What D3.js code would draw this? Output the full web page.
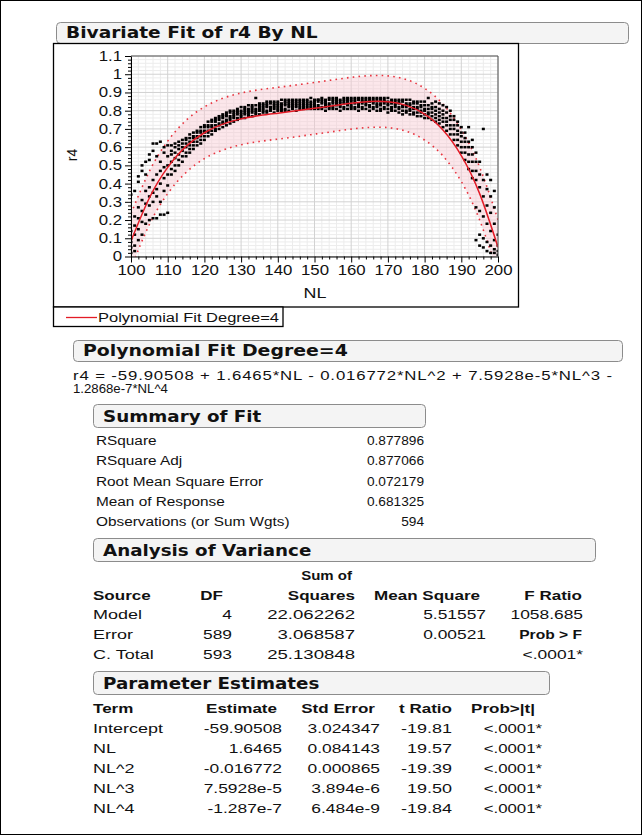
<!DOCTYPE html>
<html><head><meta charset="utf-8">
<script src="https://cdn.jsdelivr.net/npm/d3@7"></script>
<style>
html,body{margin:0;padding:0;background:#fff;}
svg{display:block;}
</style></head><body>
<svg id="c" width="642" height="835"></svg>
<script>
// ---------------- data ----------------
const nlTicks = [100,110,120,130,140,150,160,170,180,190,200];
const r4Ticks = [0,0.1,0.2,0.3,0.4,0.5,0.6,0.7,0.8,0.9,1,1.1];
const r4TickLabels = ["0","0.1","0.2","0.3","0.4","0.5","0.6","0.7","0.8","0.9","1","1.1"];

// fitted polynomial curve and individual confidence limits
const fitNL   = [100,105,110,115,120,125,130,135,140,145,150,155,160,165,170,175,180,185,190,195,200];
const fitR4   = [0.085,0.321,0.489,0.604,0.679,0.726,0.755,0.773,0.786,0.799,0.813,0.827,0.841,0.850,0.849,0.829,0.781,0.694,0.554,0.345,0.051];
const upperR4 = [0.235,0.467,0.633,0.747,0.821,0.868,0.897,0.915,0.928,0.941,0.955,0.969,0.983,0.992,0.991,0.971,0.923,0.836,0.697,0.490,0.201];
const lowerR4 = [-0.065,0.175,0.345,0.461,0.537,0.584,0.613,0.631,0.644,0.657,0.671,0.685,0.699,0.708,0.707,0.687,0.639,0.552,0.411,0.200,-0.099];

// observations: NL value and the r4 readings at that NL
const obsNL = [100,101,102,103,104,105,106,107,108,109,110,111,112,113,114,115,116,117,118,119,120,
  121,122,123,124,125,126,127,128,129,130,131,132,133,134,135,136,137,138,139,140,
  141,142,143,144,145,146,147,148,149,150,151,152,153,154,155,156,157,158,159,160,
  161,162,163,164,165,166,167,168,169,170,171,172,173,174,175,176,177,178,179,180,
  181,182,183,184,185,186,187,188,189,190,191,192,193,194,195,196,197,198,199,200];
const obsR4 = [
 [.02,.05,.10,.14,.34,.08],[.03,.12,.17,.22,.36,.06],[.09,.15,.21,.41,.44,.27],[.12,.19,.25,.31,.47,.50],
 [.18,.23,.29,.36,.52,.45],[.20,.28,.33,.38,.53,.56],[.21,.30,.35,.42,.58,.62],[.21,.33,.37,.45,.55,.62],
 [.23,.30,.40,.47,.52,.63],[.23,.36,.43,.49,.57,.60],[.24,.39,.45,.50,.55,.61],[.45,.48,.52,.56,.58,.61],
 [.47,.50,.54,.57,.60,.62],[.50,.53,.56,.59,.61,.63],[.52,.55,.58,.60,.62,.64],[.55,.57,.60,.62,.64,.65],
 [.57,.59,.61,.63,.65,.67],[.59,.61,.63,.65,.66,.68],[.61,.63,.65,.66,.68,.69],[.62,.64,.66,.68,.69,.71],
 [.64,.66,.68,.69,.71,.72],[.66,.68,.69,.71,.72,.74],[.67,.69,.71,.72,.74,.75],[.69,.70,.72,.74,.75,.76],
 [.70,.72,.73,.75,.76,.77],[.71,.73,.74,.76,.77,.78],[.72,.74,.75,.77,.78,.79],[.73,.75,.76,.77,.79,.80],
 [.74,.76,.77,.78,.79,.80],[.75,.76,.78,.79,.80,.81],[.76,.77,.78,.79,.80,.82],[.76,.78,.79,.80,.81,.82],
 [.77,.78,.79,.80,.81,.83],[.77,.79,.80,.81,.82,.83],[.78,.79,.80,.81,.83,.87],[.78,.80,.81,.82,.83,.84],
 [.79,.80,.81,.82,.83,.84],[.79,.80,.82,.83,.84,.85],[.80,.81,.82,.82,.84,.85],[.79,.81,.82,.83,.84,.85],
 [.80,.81,.82,.83,.84,.85],[.80,.81,.82,.83,.84,.86],[.80,.81,.83,.84,.85,.86],[.80,.82,.83,.84,.85,.86],
 [.81,.82,.83,.84,.85,.86],[.80,.82,.83,.84,.85,.86],[.81,.82,.83,.84,.85,.86],[.81,.82,.83,.84,.85,.86],
 [.81,.82,.83,.84,.85,.86],[.81,.82,.83,.84,.85,.87],[.81,.82,.83,.84,.85,.86],[.81,.82,.83,.85,.86,.86],
 [.81,.82,.84,.85,.86,.87],[.80,.82,.83,.84,.85,.86],[.81,.82,.83,.84,.86,.87],[.81,.82,.84,.85,.86,.87],
 [.81,.83,.84,.85,.86,.87],[.80,.82,.83,.84,.85,.86],[.81,.82,.84,.85,.86,.87],[.81,.83,.84,.85,.86,.87],
 [.81,.82,.83,.85,.86,.87],[.81,.82,.84,.85,.86,.87],[.80,.82,.83,.84,.86,.87],[.81,.82,.84,.85,.86,.87],
 [.81,.83,.84,.85,.86,.87],[.80,.82,.83,.85,.86,.87],[.81,.82,.84,.85,.86,.87],[.80,.82,.83,.84,.86,.87],
 [.80,.81,.83,.84,.86,.87],[.81,.82,.84,.85,.86,.87],[.79,.81,.83,.84,.85,.87],[.80,.81,.82,.84,.85,.86],
 [.80,.82,.83,.84,.85,.86],[.79,.81,.82,.84,.85,.86],[.78,.80,.82,.83,.85,.86],[.79,.80,.82,.83,.84,.86],
 [.78,.80,.81,.83,.84,.86],[.78,.79,.81,.82,.84,.85],[.77,.79,.81,.82,.84,.85],[.77,.79,.80,.82,.83,.85],
 [.76,.78,.80,.81,.83,.85],[.76,.78,.79,.81,.83,.87],[.75,.77,.79,.81,.82,.84],[.74,.76,.78,.80,.82,.85],
 [.73,.75,.77,.79,.81,.84],[.71,.74,.76,.78,.80,.83],[.69,.72,.74,.76,.79,.82],[.67,.70,.72,.75,.77,.80],
 [.64,.67,.70,.72,.75,.77],[.61,.64,.67,.69,.72,.74],[.57,.60,.63,.66,.68,.71],[.53,.57,.60,.63,.65,.68],
 [.48,.52,.56,.60,.63,.71],[.43,.47,.52,.56,.60,.64],[.09,.27,.42,.47,.52,.57],[.06,.12,.25,.38,.45,.52],
 [.05,.10,.22,.33,.42,.70],[.03,.08,.18,.28,.37,.45],[.02,.06,.14,.24,.33,.42],[.02,.04,.09,.18,.27,.36],
 [.01,.03,.06,.12]
];

const equationLines = ["r4 = -59.90508 + 1.6465*NL - 0.016772*NL^2 + 7.5928e-5*NL^3 -", "1.2868e-7*NL^4"];

const summaryLabels = ["RSquare","RSquare Adj","Root Mean Square Error","Mean of Response","Observations (or Sum Wgts)"];
const summaryValues = ["0.877896","0.877066","0.072179","0.681325","594"];

const anovaSource = ["Model","Error","C. Total"];
const anovaDF     = ["4","589","593"];
const anovaSS     = ["22.062262","3.068587","25.130848"];
const anovaMS     = ["5.51557","0.00521",""];
const anovaF      = ["1058.685","Prob > F","<.0001*"];

const paramTerms  = ["Intercept","NL","NL^2","NL^3","NL^4"];
const paramEst    = ["-59.90508","1.6465","-0.016772","7.5928e-5","-1.287e-7"];
const paramSE     = ["3.024347","0.084143","0.000865","3.894e-6","6.484e-9"];
const paramT      = ["-19.81","19.57","-19.39","19.50","-19.84"];
const paramP      = ["<.0001*","<.0001*","<.0001*","<.0001*","<.0001*"];

// ---------------- drawing ----------------
const svg = d3.select("#c");
const BODY = "'Liberation Sans', Arial, sans-serif";
const HEAD = "'DejaVu Sans', sans-serif";
const SX = 1.2;   // horizontal stretch of the upper texts
const WX = 1.45;  // horizontal stretch of the lower tables

function txt(x, y, s, o = {}) {
  const sx = o.sx ?? SX;
  const t = svg.append("text")
    .attr("transform", `translate(${x},${y}) scale(${sx},1)`)
    .attr("text-anchor", o.anchor || "start")
    .style("font-family", o.family || BODY)
    .style("font-size", (o.size || 12) + "px")
    .style("font-weight", o.bold ? "bold" : "normal")
    .style("fill", o.fill || "#111")
    .text(s);
  if (o.len) t.attr("textLength", o.len).attr("lengthAdjust", o.adjust || "spacingAndGlyphs");
  return t;
}
function header(x, y, w, h, label, sx = 1.22) {
  svg.append("rect").attr("x", x + 0.5).attr("y", y + 0.5).attr("width", w).attr("height", h)
    .attr("rx", 4).attr("fill", "#f4f4f4").attr("stroke", "#8c8c8c");
  txt(x + 10, y + h - 5, label, {family: HEAD, bold: true, size: 15, sx});
}

// outer border
svg.append("rect").attr("x", 0.5).attr("y", 0.5).attr("width", 641).attr("height", 834)
  .attr("fill", "none").attr("stroke", "#000");

header(56, 22, 572, 21, "Bivariate Fit of r4 By NL", 1.24);

// plot frame and legend
svg.append("rect").attr("x", 53.5).attr("y", 43.5).attr("width", 465).attr("height", 263.5)
  .attr("fill", "#fff").attr("stroke", "#000").attr("stroke-width", 1.3);
svg.append("rect").attr("x", 53.5).attr("y", 307).attr("width", 229.5).attr("height", 19.5)
  .attr("fill", "#fff").attr("stroke", "#000").attr("stroke-width", 1.3);

const x = d3.scaleLinear().domain([100, 200]).range([131, 498]);
const y = d3.scaleLinear().domain([0, 1.1]).range([256.5, 56]);

const defs = svg.append("defs");
defs.append("clipPath").attr("id", "clip").append("rect")
  .attr("x", x(100)).attr("y", y(1.1)).attr("width", x(200) - x(100)).attr("height", y(0) - y(1.1));

const plot = svg.append("g");
// grid
const minorX = d3.range(100, 201, 2).filter(v => v % 10 !== 0);
const minorY = d3.range(0, 111, 2).filter(v => v % 10 !== 0).map(v => v / 100);
plot.append("g").selectAll("line").data(minorX).join("line")
  .attr("x1", d => x(d)).attr("x2", d => x(d)).attr("y1", y(0)).attr("y2", y(1.1))
  .attr("stroke", "#ececec");
plot.append("g").selectAll("line").data(minorY).join("line")
  .attr("y1", d => y(d)).attr("y2", d => y(d)).attr("x1", x(100)).attr("x2", x(200))
  .attr("stroke", "#ececec");
plot.append("g").selectAll("line").data(nlTicks).join("line")
  .attr("x1", d => x(d)).attr("x2", d => x(d)).attr("y1", y(0)).attr("y2", y(1.1))
  .attr("stroke", "#d2d2d2");
plot.append("g").selectAll("line").data(r4Ticks).join("line")
  .attr("y1", d => y(d)).attr("y2", d => y(d)).attr("x1", x(100)).attr("x2", x(200))
  .attr("stroke", "#d2d2d2");

const band = fitNL.map((n, i) => ({n, f: fitR4[i], u: upperR4[i], l: lowerR4[i]}));
const cg = plot.append("g").attr("clip-path", "url(#clip)");
cg.append("path").datum(band)
  .attr("d", d3.area().x(d => x(d.n)).y0(d => y(d.l)).y1(d => y(d.u)).curve(d3.curveNatural))
  .attr("fill", "#f9c9d2").attr("fill-opacity", 0.45);
["u", "l"].forEach(k => {
  cg.append("path").datum(band)
    .attr("d", d3.line().x(d => x(d.n)).y(d => y(d[k])).curve(d3.curveNatural))
    .attr("fill", "none").attr("stroke", "#e8343f").attr("stroke-width", 1.6)
    .attr("stroke-dasharray", "1.6,4.2");
});

// points
const pts = [];
obsNL.forEach((n, i) => obsR4[i].forEach(v => pts.push([n, v])));
cg.append("g").selectAll("rect").data(pts).join("rect")
  .attr("x", d => x(d[0]) - 1.5).attr("y", d => y(d[1]) - 1.2)
  .attr("width", 3).attr("height", 2.5).attr("fill", "#000");

// fit line
cg.append("path").datum(band)
  .attr("d", d3.line().x(d => x(d.n)).y(d => y(d.f)).curve(d3.curveNatural))
  .attr("fill", "none").attr("stroke", "#e31b26").attr("stroke-width", 1.5);

// plot border top/right
plot.append("path").attr("d", `M${x(100)},${y(1.1)}H${x(200)}V${y(0)}`)
  .attr("fill", "none").attr("stroke", "#555");

// axes
const TSX = 1.2;
function styleAxis(g, isY) {
  g.select(".domain").attr("stroke", "#000");
  g.selectAll(".tick line").attr("stroke", "#000");
  g.selectAll(".tick text")
    .style("font-family", BODY).style("font-size", "14px").style("fill", "#111")
    .attr("transform", `scale(${TSX},1)`);
  if (isY) g.selectAll(".tick text").attr("x", -9 / TSX);
}
const yAxis = svg.append("g").attr("transform", `translate(${x(100)},0)`)
  .call(d3.axisLeft(y).tickValues(r4Ticks).tickSize(6).tickSizeOuter(0)
    .tickFormat((d, i) => r4TickLabels[i]));
styleAxis(yAxis, true);
svg.append("g").attr("transform", `translate(${x(100)},0)`)
  .call(d3.axisLeft(y).tickValues(minorY).tickSize(3).tickFormat(""))
  .call(g => { g.select(".domain").remove(); g.selectAll("line").attr("stroke", "#000"); });
const xAxis = svg.append("g").attr("transform", `translate(0,${y(0)})`)
  .call(d3.axisBottom(x).tickValues(nlTicks).tickSize(6).tickSizeOuter(0).tickFormat(d3.format("d")));
styleAxis(xAxis, false);
svg.append("g").attr("transform", `translate(0,${y(0)})`)
  .call(d3.axisBottom(x).tickValues(minorX).tickSize(3).tickFormat(""))
  .call(g => { g.select(".domain").remove(); g.selectAll("line").attr("stroke", "#000"); });

txt(315, 298, "NL", {anchor: "middle", size: 14, sx: 1.28});
svg.append("text").attr("transform", `translate(77,155) rotate(-90)`)
  .attr("text-anchor", "middle").style("font-family", BODY).style("font-size", "14px")
  .style("fill", "#111").text("r4");

// legend
svg.append("line").attr("x1", 66).attr("x2", 97).attr("y1", 317.5).attr("y2", 317.5)
  .attr("stroke", "#e31b26").attr("stroke-width", 1.3);
txt(98, 322, "Polynomial Fit Degree=4", {size: 12, sx: 1, len: 181});

// polynomial fit section
header(73, 340, 549, 21, "Polynomial Fit Degree=4", 1.26);
txt(73, 380, equationLines[0], {size: 12, sx: 1.4, len: 539 / 1.4, adjust: "spacing"});
txt(73, 393, equationLines[1], {size: 12, sx: 1.1});

// summary of fit
header(93, 404, 332, 23, "Summary of Fit");
summaryLabels.forEach((s, i) => {
  const yy = 445 + i * 20.3;
  txt(96, yy, s, {sx: 1.28});
  txt(424, yy, summaryValues[i], {anchor: "end", sx: 1.14});
});

// analysis of variance
header(93, 538, 502, 23, "Analysis of Variance");
txt(352, 580, "Sum of", {anchor: "end", bold: true, sx: 1.25});
[["Source", 93, "start"], ["DF", 223, "end"], ["Squares", 355, "end"], ["Mean Square", 480, "end"], ["F Ratio", 582, "end"]]
  .forEach(([s, xx, a]) => txt(xx, 600, s, {anchor: a, bold: true, sx: 1.42}));
anovaSource.forEach((s, i) => {
  const yy = 619 + i * 20;
  txt(93, yy, s, {sx: 1.5});
  txt(232, yy, anovaDF[i], {anchor: "end", sx: WX});
  txt(355, yy, anovaSS[i], {anchor: "end", sx: 1.55});
  txt(486, yy, anovaMS[i], {anchor: "end", sx: WX});
  if (i === 1) txt(582, yy, anovaF[i], {anchor: "end", bold: true, sx: 1.3});
  else txt(583, yy, anovaF[i], {anchor: "end", sx: WX});
});

// parameter estimates
header(93, 671, 456, 23, "Parameter Estimates");
[["Term", 93, "start"], ["Estimate", 277, "end"], ["Std Error", 375, "end"], ["t Ratio", 452, "end"], ["Prob>|t|", 535, "end"]]
  .forEach(([s, xx, a]) => txt(xx, 713, s, {anchor: a, bold: true, sx: 1.42}));
paramTerms.forEach((s, i) => {
  const yy = 733 + i * 20;
  txt(93, yy, s, {sx: 1.5});
  txt(282, yy, paramEst[i], {anchor: "end", sx: WX});
  txt(380, yy, paramSE[i], {anchor: "end", sx: WX});
  txt(452, yy, paramT[i], {anchor: "end", sx: 1.5});
  txt(542, yy, paramP[i], {anchor: "end", sx: 1.4});
});
</script>
</body></html>
